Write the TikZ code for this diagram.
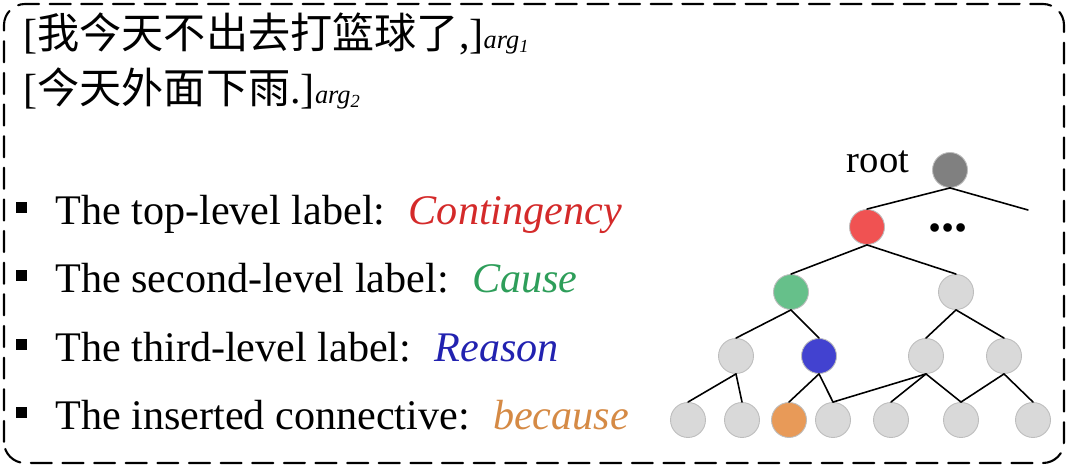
\documentclass[tikz,border=0pt]{standalone}
\usepackage{fontspec}
\setmainfont{Liberation Serif}
\newfontfamily\cjk{Noto Sans CJK SC}
\definecolor{TreeDark}{HTML}{808080}
\definecolor{TreeLight}{HTML}{D9D9D9}
\definecolor{TreeRim}{HTML}{BDBDBD}
\definecolor{TopRed}{HTML}{F05252}
\definecolor{SecGreen}{HTML}{66C08A}
\definecolor{ThirdBlue}{HTML}{4242D0}
\definecolor{ConnOrange}{HTML}{E89A58}
\definecolor{TopRedText}{HTML}{D42A2A}
\definecolor{SecGreenText}{HTML}{2E9E5A}
\definecolor{ThirdBlueText}{HTML}{2222B0}
\definecolor{ConnOrangeText}{HTML}{D58A45}
\newcommand{\argtag}[1]{{\fontsize{15}{18}\selectfont\textit{arg}\textsubscript{\textit{#1}}}}

\begin{document}
\begin{tikzpicture}[line cap=round,line join=round,
    vertex/.style={circle,minimum size=7mm,inner sep=0pt,draw=TreeRim,line width=0.5pt,fill=#1},
    vertex/.default=TreeLight,
    edge/.style={black,line width=0.9pt},
    line/.style={anchor=base west,inner sep=0pt,font=\fontsize{24}{28}\selectfont}]
  \useasboundingbox (0,0) rectangle (21.36,9.36);
  \draw[line width=1.2pt,dash pattern=on 12pt off 6pt,rounded corners=12pt]
    (0.08,0.10) rectangle (21.28,9.28);

  % the two arguments
  \node[line] (arg1) at (0.46,8.38) {[{\cjk 我今天不出去打篮球了},]\argtag{1}};
  \node[line] (arg2) at (0.46,7.28) {[{\cjk 今天外面下雨}.]\argtag{2}};

  % the labels
  \node[line] (top) at (1.10,4.86)
    {The top-level label:\hspace{0.55em}\textcolor{TopRedText}{\textit{Contingency}}};
  \node[line] (second) at (1.10,3.50)
    {The second-level label:\hspace{0.55em}\textcolor{SecGreenText}{\textit{Cause}}};
  \node[line] (third) at (1.10,2.12)
    {The third-level label:\hspace{0.55em}\textcolor{ThirdBlueText}{\textit{Reason}}};
  \node[line] (conn) at (1.10,0.76)
    {The inserted connective:\hspace{0.55em}\textcolor{ConnOrangeText}{\textit{because}}};
  \fill (0.31,5.09) rectangle (0.53,5.31);
  \fill (0.31,3.73) rectangle (0.53,3.95);
  \fill (0.31,2.35) rectangle (0.53,2.57);
  \fill (0.31,0.99) rectangle (0.53,1.21);

  % the sense tree
  \node[vertex=TreeDark] (r) at (19.00,5.96) {};
  \node[anchor=base,font=\fontsize{22}{26}\selectfont] (rootlbl) at (17.56,5.90) {root};
  \node[vertex=TopRed] (l1a) at (17.34,4.82) {};
  \node[anchor=base,font=\fontsize{30}{30}\selectfont\bfseries] (dots) at (18.96,4.72) {...};
  \node[vertex=SecGreen] (l2a) at (15.82,3.52) {};
  \node[vertex] (l2b) at (19.12,3.52) {};
  \node[vertex] (l3a) at (14.72,2.24) {};
  \node[vertex=ThirdBlue] (l3b) at (16.38,2.24) {};
  \node[vertex] (l3c) at (18.52,2.24) {};
  \node[vertex] (l3d) at (20.08,2.24) {};
  \node[vertex] (l4a) at (13.76,0.96) {};
  \node[vertex] (l4b) at (14.84,0.96) {};
  \node[vertex=ConnOrange] (l4c) at (15.78,0.96) {};
  \node[vertex] (l4d) at (16.66,0.96) {};
  \node[vertex] (l4e) at (17.82,0.96) {};
  \node[vertex] (l4f) at (19.22,0.96) {};
  \node[vertex] (l4g) at (20.66,0.96) {};
  \coordinate (rest) at (20.56,5.16);

  \draw[edge] (r.south) -- (l1a.north);
  \draw[edge] (r.south) -- (rest);
  \draw[edge] (l1a.south) -- (l2a.north);
  \draw[edge] (l1a.south) -- (l2b.north);
  \draw[edge] (l2a.south) -- (l3a.north);
  \draw[edge] (l2a.south) -- (l3b.north);
  \draw[edge] (l2b.south) -- (l3c.north);
  \draw[edge] (l2b.south) -- (l3d.north);
  \draw[edge] (l3a.south) -- (l4a.north);
  \draw[edge] (l3a.south) -- (l4b.north);
  \draw[edge] (l3b.south) -- (l4c.north);
  \draw[edge] (l3b.south) -- (l4d.north);
  \draw[edge] (l3c.south) -- (l4d.north);
  \draw[edge] (l3c.south) -- (l4e.north);
  \draw[edge] (l3c.south) -- (l4f.north);
  \draw[edge] (l3d.south) -- (l4f.north);
  \draw[edge] (l3d.south) -- (l4g.north);
\end{tikzpicture}
\end{document}
